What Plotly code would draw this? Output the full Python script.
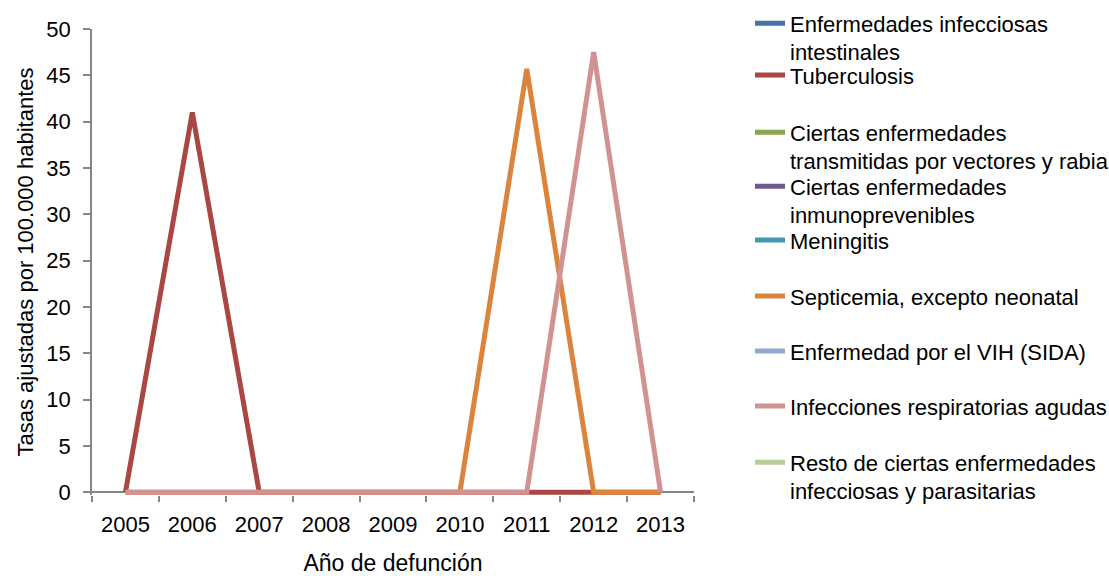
import plotly.graph_objects as go

years = ["2005", "2006", "2007", "2008", "2009", "2010", "2011", "2012", "2013"]

series_names = [
    "Enfermedades infecciosas<br>intestinales",
    "Tuberculosis",
    "Ciertas enfermedades<br>transmitidas por vectores y rabia",
    "Ciertas enfermedades<br>inmunoprevenibles",
    "Meningitis",
    "Septicemia, excepto neonatal",
    "Enfermedad por el VIH (SIDA)",
    "Infecciones respiratorias agudas",
    "Resto de ciertas enfermedades<br>infecciosas y parasitarias",
]

intestinales = [None] * 9
tuberculosis = [0, 41.0, 0, 0, 0, 0, 0, 0, 0]
transmitidas = [None] * 9
inmunoprevenibles = [None] * 9
meningitis = [None] * 9
septicemia = [0, 0, 0, 0, 0, 0, 45.7, 0, 0]
vih = [None] * 9
respiratorias = [0, 0, 0, 0, 0, 0, 0, 47.5, 0]
resto = [None] * 9

values = [intestinales, tuberculosis, transmitidas, inmunoprevenibles, meningitis,
          septicemia, vih, respiratorias, resto]

colors = ["#4572A7", "#AA4643", "#89A54E", "#71588F", "#4198AF",
          "#DB843D", "#93A9CF", "#D19392", "#B9CD96"]

# vertical position (px from top) of each legend entry's line swatch
legend_rows = [21, 75, 130, 184, 240, 296, 351, 406, 460]

FONT = "Liberation Sans, Arial, sans-serif"
FS = 22
W, H = 1109, 576

fig = go.Figure()
layout_legends = {}
for i, (name, vals, col) in enumerate(zip(series_names, values, colors)):
    key = "legend" if i == 0 else f"legend{i + 1}"
    two_lines = "<br>" in name
    top = legend_rows[i] - (18.5 if two_lines else 20.8)
    fig.add_trace(go.Scatter(
        x=years, y=vals, name=name, mode="lines",
        line=dict(color=col, width=5),
        legend=key, showlegend=True,
        connectgaps=False,
    ))
    layout_legends[key] = dict(
        xref="container", yref="container",
        x=750 / W, y=1 - top / H,
        xanchor="left", yanchor="top",
        valign="top",
        bgcolor="rgba(0,0,0,0)",
        font=dict(family=FONT, size=FS, color="#000000"),
        itemclick=False, itemdoubleclick=False,
    )

fig.update_layout(
    width=W, height=H,
    margin=dict(l=92, r=415, t=29, b=81.2, autoexpand=False),
    paper_bgcolor="white", plot_bgcolor="white",
    font=dict(family=FONT, size=FS, color="#000000"),
    xaxis=dict(
        type="category",
        range=[-0.5, 8.5],
        tickson="boundaries",
        automargin=False,
        ticks="outside", ticklen=6, tickcolor="#868686", tickwidth=1.5,
        ticklabelstandoff=14,
        showline=False,
        showgrid=False, zeroline=False,
        tickfont=dict(family=FONT, size=FS, color="#000000"),
        title=dict(text="Año de defunción", standoff=20,
                   font=dict(family=FONT, size=FS + 1, color="#000000")),
    ),
    yaxis=dict(
        range=[-0.3, 50], tickvals=[0, 5, 10, 15, 20, 25, 30, 35, 40, 45, 50],
        automargin=False,
        ticks="outside", ticklen=7, tickcolor="#868686", tickwidth=1.5,
        ticklabelstandoff=8,
        showline=True, linecolor="#868686", linewidth=1.5,
        showgrid=False,
        zeroline=True, zerolinecolor="#868686", zerolinewidth=1.5,
        tickfont=dict(family=FONT, size=FS, color="#000000"),
        title=dict(text="Tasas ajustadas por 100.000 habitantes", standoff=7,
                   font=dict(family=FONT, size=FS, color="#000000")),
    ),
    **layout_legends,
)

fig.write_html("out.html")
